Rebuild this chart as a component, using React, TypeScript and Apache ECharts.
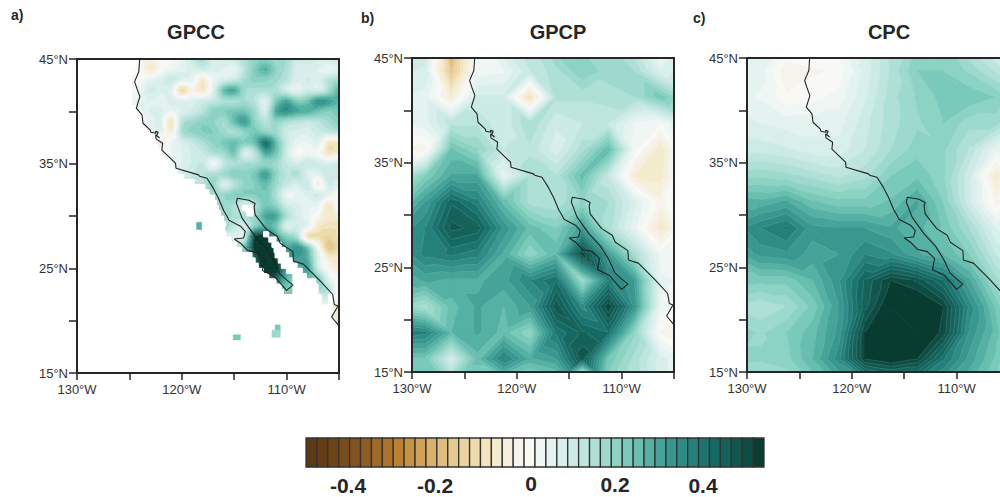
import React, { useEffect, useRef } from "react";
import * as echarts from "echarts";

// Colour bar: 42 boxes of 0.025 each, values in hundredths from -52.5
const bandStart = -52.5;
const bandStep = 2.5;
const bandColors = [
  "#5b3a15", "#643d14", "#6e4417", "#7a4c1b", "#84521e", "#8f5c25", "#a06a29", "#ad732b", "#bc812f", "#c69244", "#d0a157",
  "#d8b069", "#dfbe7d", "#e5c98f", "#ead39f", "#eedbac", "#f2e4bc", "#f4ebcd", "#f5efdc", "#f5f3ec", "#f8f8f5",
  "#eff6f4", "#e4f2f0", "#d9efeb", "#cdebe6", "#bfe5df", "#aee0d6", "#9dd9cd", "#8cd3c4", "#7acabb", "#68bfb0",
  "#55b1a3", "#45a398", "#389890", "#2d8d86", "#248079", "#1b746f", "#136a64", "#146259", "#10574f", "#0b4d45", "#083c30",
];
const colorbarLabels = [
  { text: "-0.4", x: 348, y: 485 },
  { text: "-0.2", x: 435, y: 485 },
  { text: "0", x: 531, y: 483 },
  { text: "0.2", x: 615, y: 484 },
  { text: "0.4", x: 703, y: 485 },
];

// 2.5 degree nodes for GPCP and CPC
const coarseLon = [-131.25, -128.75, -126.25, -123.75, -121.25, -118.75, -116.25, -113.75, -111.25, -108.75, -106.25, -103.75];
const coarseLat = [46.25, 43.75, 41.25, 38.75, 36.25, 33.75, 31.25, 28.75, 26.25, 23.75, 21.25, 18.75, 16.25, 13.75];

const gpcpValues = [
  [12, 10, -28, 0, 8, 12, 20, 17, 15, 10, -4, 10],
  [8, 7, -20, 1, 2, 10, 14, 20, 16, 15, 5, 10],
  [5, 4, -8, 8, 8, -13, 13, 13, 14, 15, 22, 14],
  [2, 4, 12, 12, 8, 15, 8, 10, 10, 2, 0, 8],
  [-2, -4, 23, 18, 10, 12, 6, 14, 25, 1, -10, 5],
  [10, 20, 28, 28, 3, 14, 13, 24, 10, -8, -9, 5],
  [20, 30, 42, 36, 24, 14, 13, 18, 15, 6, -4, 5],
  [30, 35, 46, 44, 32, 24, 20, 30, 14, 3, -10, 2],
  [30, 36, 38, 36, 27, 18, 25, 50, 30, 15, 1, 0],
  [25, 28, 27, 27, 29, 35, 40, 16, 36, 30, 3, 2],
  [18, 14, 24, 28, 25, 30, 47, 34, 50, 32, 2, -2],
  [38, 36, 25, 28, 24, 18, 38, 43, 40, 18, -3, -8],
  [22, 22, 7, 24, 36, 27, 30, 47, 22, 14, 6, 2],
  [20, 18, 18, 18, 18, 15, 18, -20, 18, 14, 6, 2],
];

const cpcValues = [
  [6, 5, 1, 0, 1, 6, 14, 18, 18, 12, 6, 8],
  [5, 4, -5, -3, -2, 6, 13, 20, 20, 17, 12, 8],
  [4, 2, -2, -1, 1, 7, 14, 18, 21, 22, 20, 14],
  [6, 5, 4, 4, 4, 9, 14, 17, 20, 16, 16, 8],
  [9, 9, 8, 6, 6, 10, 15, 19, 18, 12, 3, 0],
  [17, 17, 16, 14, 12, 14, 20, 22, 18, 8, -9, 0],
  [27, 26, 28, 23, 21, 21, 23, 28, 20, 8, -4, 0],
  [31, 35, 38, 31, 30, 30, 28, 26, 22, 15, 5, 2],
  [26, 31, 32, 29, 30, 35, 33, 28, 25, 20, 10, 5],
  [21, 21, 21, 25, 32, 43, 50, 47, 40, 28, 16, 8],
  [15, 13, 15, 21, 30, 44, 54, 55, 50, 34, 22, 10],
  [20, 17, 20, 24, 31, 50, 58, 55, 49, 32, 24, 12],
  [18, 18, 19, 25, 34, 50, 53, 50, 38, 29, 22, 12],
  [14, 13, 15, 20, 25, 30, 34, 34, 30, 25, 20, 12],
];

// 1 degree nodes for GPCC
const gpccLon = [-125, -124, -123, -122, -121, -120, -119, -118, -117, -116, -115, -114, -113, -112, -111, -110, -109, -108, -107, -106, -105];
const gpccLat = [45, 44, 43, 42, 41, 40, 39, 38, 37, 36, 35, 34, 33, 32, 31, 30, 29, 28, 27, 26, 25, 24, 23, 22, 21, 20, 19];
const gpccValues = [
  [-2, -2, -5, -2, 0, 3, 9, 14, 6, 8, 9, 14, 18, 19, 16, 15, 9, 9, 8, 8, 10],
  [-2, -2, -9, -2, 2, 4, 6, 8, 6, 5, 3, 12, 20, 26, 18, 14, 6, 6, 5, 2, 5],
  [-6, 0, 3, 6, 10, 5, 3, -9, 2, 6, 9, 15, 19, 18, 16, 12, 6, 8, 6, 12, 15],
  [-1, 2, 8, 6, 4, -15, -4, -10, 4, 24, 28, 16, 14, 14, 14, 7, 3, 8, 6, 14, 26],
  [2, 3, 5, 3, 6, 5, 5, 8, 10, 14, 14, 15, 12, 5, 20, 28, 20, 22, 32, 30, 25],
  [2, 2, 5, 6, 2, 5, 8, 12, 19, 20, 22, 22, 16, 7, 28, 33, 28, 27, 23, 20, 22],
  [0, 0, 3, 5, -11, 12, 16, 19, 18, 15, 24, 30, 18, 13, 18, 14, 12, 10, 12, 15, 20],
  [0, 0, 2, 4, -7, 14, 18, 20, 20, 16, 14, 18, 22, 18, 16, 8, 7, 6, 9, 10, 12],
  [0, 0, 0, -7, 2, 6, 10, 14, 18, 21, 24, 20, 24, 40, 24, 10, 3, 2, 5, -10, -10],
  [0, 0, 0, -3, 2, 5, 8, 10, 14, 16, 22, 6, 12, 28, 22, 8, -1, 1, -1, -11, -8],
  [0, 0, 0, 0, 3, 5, 8, 10, 0, 10, 14, 15, 15, 18, 16, 10, 7, 10, 8, 6, 8],
  [0, 0, 0, 0, 5, 8, 10, 12, 14, 16, 20, 18, 22, 30, 18, 12, 14, 5, 4, 10, 8],
  [5, 5, 5, 8, 8, 10, 10, 12, 18, 6, 12, 18, 20, 24, 16, 10, 6, 10, -6, 8, 5],
  [10, 10, 10, 10, 10, 10, 10, 12, 16, 17, 20, 20, 20, 22, 14, 2, 3, 6, 8, 3, 0],
  [14, 14, 14, 14, 14, 14, 14, 14, 14, 16, 14, 6, 14, 22, 18, 8, 6, 3, 2, -10, 0],
  [18, 18, 18, 18, 18, 18, 18, 18, 18, 18, 14, 14, 18, 28, 28, 14, 7, 3, -3, -9, -7],
  [18, 18, 18, 18, 18, 18, 18, 18, 18, 18, 10, 8, 20, 26, 22, 5, 8, 3, -9, -12, -12],
  [4, 4, 4, 4, 4, 4, 4, 4, 4, 4, 6, 8, 52, 52, 30, 20, 14, -12, -13, -16, -12],
  [10, 10, 10, 10, 10, 10, 10, 10, 10, 10, 10, 22, 55, 55, 45, 28, 32, 22, 0, -20, -14],
  [15, 15, 15, 15, 15, 15, 15, 15, 15, 15, 15, 15, 45, 55, 52, 35, 30, 26, 6, -8, -10],
  [45, 45, 45, 45, 45, 45, 45, 45, 45, 45, 45, 45, 45, 55, 55, 30, 25, 30, 8, -2, -8],
  [40, 40, 40, 40, 40, 40, 40, 40, 40, 40, 40, 40, 40, 40, 42, 25, 20, 22, 20, 4, -3],
  [22, 22, 22, 22, 22, 22, 22, 22, 22, 22, 22, 22, 22, 22, 22, 22, 20, 10, 15, 12, -2],
  [20, 20, 20, 20, 20, 20, 20, 20, 20, 20, 20, 20, 20, 20, 20, 20, 14, 8, 6, 6, -6],
  [0, 0, 0, 0, 0, 0, 0, 0, 0, 0, 0, 0, 0, 0, 0, 0, 0, 0, 0, 0, -10],
  [-3, -3, -3, -3, -3, -3, -3, -3, -3, -3, -3, -3, -3, -3, -3, -3, -3, -3, -3, -3, -10],
  [-6, -6, -6, -6, -6, -6, -6, -6, -6, -6, -6, -6, -6, -6, -6, -6, -6, -6, -6, -6, -14],
];

// GPCC has no data west of the coast: southern edge of each half-degree row, and the first longitude with data
const gpccRowLat = [44.5, 44, 43.5, 43, 42.5, 42, 41.5, 41, 40.5, 40, 39.5, 39, 38.5, 38, 37.5, 37, 36.5, 36, 35.5, 35, 34.5, 34, 33.5, 33, 32.5, 32, 31.5, 31, 30.5, 30, 29.5, 29, 28.5, 28, 27.5, 27, 26.5, 26, 25.5, 25, 24.5, 24, 23.5, 23, 22.5, 22, 21.5, 21, 20.5, 20, 19.5, 19];
const gpccRowWest = [-124.2, -124.4, -124.6, -124.8, -124.8, -124.8, -124.8, -124.8, -124.8, -124.3, -123.9, -123.8, -123.8, -123.4, -122.9, -122.5, -122.3, -122, -121.8, -121.3, -120.8, -120.4, -119.8, -118.8, -117.8, -117.4, -116.9, -116.7, -116.5, -116.3, -116, -115.8, -115.9, -115.8, -115.3, -114.8, -114.3, -113.3, -113, -112.7, -112.2, -111.7, -111, -110.5, -110.3, -106.7, -106.7, -105.7, -105.7, -105.7, -105.4, -105.1];
// rows' gaps inside the land: southern edge, west, east
const gpccGaps = [
  [30.5, -114.2, -113.2], [30, -113.8, -113.2], [28, -112.2, -111.7], [27.5, -111.7, -111], [27, -111.4, -110.5],
  [26.5, -111.2, -110.1], [26, -111.1, -109.8], [25.5, -110.8, -109.4], [25, -110.5, -109], [24.5, -110, -108.5],
  [24, -109.4, -108.1], [23.5, -109.4, -107.2], [23, -109.4, -107], [22.5, -109.4, -107], [22, -106, -105.7], [21.5, -106, -105.7],
];
// isolated cells: west, south, east, north, value
const gpccIslands = [
  [-118.6, 28.7, -118.1, 29.4, 27],
  [-115.1, 18.15, -114.4, 18.65, 22],
  [-111.1, 19.1, -110.6, 19.6, 20],
  [-111.4, 18.4, -110.6, 19.1, 17],
];

// Shared coastline
const coastLon = [-124.02, -124.1, -124.5, -124.27, -124, -124.34, -123.8, -123.7, -123, -122.95, -122.46, -122.5, -122.25, -122.4, -122.12, -122.5, -122.46, -121.83, -121.9, -120.6, -120.55, -118.4, -118.3, -117.6, -117, -116.5, -116, -115.7, -115.5, -114.4, -113.94, -114.1, -115, -114.4, -113.7, -112.8, -112.1, -112.3, -111.2, -110, -109.4, -110, -110.65, -111.2, -112, -113.1, -114.25, -114.8, -114.7, -113.6, -113, -113.1, -113, -111.9, -110.9, -110.6, -109.4, -109.35, -108.4, -106.8, -105.6, -105.45, -105.1, -105.7, -105];
const coastLat = [45, 43.8, 42.84, 42.14, 41.4, 40.3, 39.66, 38.86, 38.2, 38, 37.9, 38.1, 38, 37.7, 37.45, 37.75, 37.37, 36.95, 36.3, 35.05, 34.57, 33.93, 33.8, 33.6, 32.66, 31.7, 30.5, 30, 29.6, 29.03, 28.5, 27.9, 27.8, 27.4, 26.7, 26.5, 25.85, 24.8, 24.25, 22.9, 23.4, 23.9, 24.5, 25.7, 27, 28.2, 29.8, 31.25, 31.7, 31.5, 31.2, 30.9, 30.1, 28.7, 28.07, 27.4, 26.6, 25.7, 25.4, 23.8, 22.5, 21.55, 21.4, 20.35, 19.5];

const panels = [
  { title: "GPCC", tag: "a)", left: 77, top: 59, titleX: 196, tagX: 11, tagY: 15 },
  { title: "GPCP", tag: "b)", left: 412, top: 58, titleX: 558, tagX: 361, tagY: 18 },
  { title: "CPC", tag: "c)", left: 747, top: 58, titleX: 889, tagX: 693, tagY: 18 },
];

const bandOf = (v: number) => Math.max(0, Math.min(bandColors.length - 1, Math.floor((v - bandStart) / bandStep)));

function clipAbove(poly: number[][], level: number, keepAbove: boolean) {
  const out: number[][] = [];
  const inside = (p: number[]) => (keepAbove ? p[2] >= level : p[2] <= level);
  for (let i = 0; i < poly.length; i++) {
    const a = poly[i];
    const b = poly[(i + 1) % poly.length];
    const ia = inside(a);
    const ib = inside(b);
    if (ia) out.push(a);
    if (ia !== ib) {
      const t = (level - a[2]) / (b[2] - a[2]);
      out.push([a[0] + t * (b[0] - a[0]), a[1] + t * (b[1] - a[1]), level]);
    }
  }
  return out;
}

function triangleChildren(tri: number[][], fills: any[], lines: any[], lineOpacity: number) {
  const vals = tri.map((p) => p[2]);
  const lo = bandOf(Math.min(...vals));
  const hi = bandOf(Math.max(...vals));
  for (let k = lo; k <= hi; k++) {
    let poly = tri;
    if (k > 0) poly = clipAbove(poly, bandStart + k * bandStep, true);
    if (k < bandColors.length - 1 && poly.length) poly = clipAbove(poly, bandStart + (k + 1) * bandStep, false);
    if (poly.length < 3) continue;
    fills.push({
      type: "polygon",
      shape: { points: poly.map((p) => [p[0], p[1]]) },
      style: { fill: bandColors[k], stroke: bandColors[k], lineWidth: 1 },
      silent: true,
    });
  }
  for (let k = lo + 1; k <= hi; k++) {
    const level = bandStart + k * bandStep;
    const pts: number[][] = [];
    for (let i = 0; i < 3; i++) {
      const a = tri[i];
      const b = tri[(i + 1) % 3];
      if (a[2] < level !== b[2] < level) {
        const t = (level - a[2]) / (b[2] - a[2]);
        pts.push([a[0] + t * (b[0] - a[0]), a[1] + t * (b[1] - a[1])]);
      }
    }
    if (pts.length === 2) {
      lines.push({
        type: "line",
        shape: { x1: pts[0][0], y1: pts[0][1], x2: pts[1][0], y2: pts[1][1] },
        style: { stroke: `rgba(255,255,255,${lineOpacity})`, lineWidth: 0.5 },
        silent: true,
      });
    }
  }
}

// One cell of a coarse grid, cut along the corner pair whose values are closest
function contourItem(lineOpacity: number) {
  return (_p: any, api: any) => {
    const c = (lon: number, lat: number, v: number) => {
      const q = api.coord([lon, lat]);
      return [q[0], q[1], v];
    };
    const x0 = api.value(0), y0 = api.value(1), x1 = api.value(2), y1 = api.value(3);
    const a = c(x0, y0, api.value(4));
    const b = c(x1, y0, api.value(5));
    const d = c(x1, y1, api.value(6));
    const e = c(x0, y1, api.value(7));
    const fills: any[] = [];
    const lines: any[] = [];
    if (Math.abs(a[2] - d[2]) <= Math.abs(b[2] - e[2])) {
      triangleChildren([a, b, d], fills, lines, lineOpacity);
      triangleChildren([a, d, e], fills, lines, lineOpacity);
    } else {
      triangleChildren([a, b, e], fills, lines, lineOpacity);
      triangleChildren([b, d, e], fills, lines, lineOpacity);
    }
    return { type: "group", children: fills.concat(lines) };
  };
}

// GPCC cells are contoured with a smooth surface through the read nodes
const cubic = (p0: number, p1: number, p2: number, p3: number, t: number) =>
  0.5 * (2 * p1 + (p2 - p0) * t + (2 * p0 - 5 * p1 + 4 * p2 - p3) * t * t + (3 * p1 - p0 - 3 * p2 + p3) * t * t * t);
const nodeAt = (i: number, j: number) =>
  gpccValues[Math.max(0, Math.min(gpccLat.length - 1, j))][Math.max(0, Math.min(gpccLon.length - 1, i))];
function surface(i: number, j: number, u: number, v: number) {
  const row = (jj: number) => cubic(nodeAt(i - 1, jj), nodeAt(i, jj), nodeAt(i + 1, jj), nodeAt(i + 2, jj), u);
  return cubic(row(j - 1), row(j), row(j + 1), row(j + 2), v);
}
const smoothSteps = 3;
function smoothItem(lineOpacity: number) {
  return (_p: any, api: any) => {
    const i = api.value(2);
    const j = api.value(3);
    const lon0 = gpccLon[i];
    const lat0 = gpccLat[j];
    const node = (s: number, t: number) => {
      const u = s / smoothSteps;
      const v = t / smoothSteps;
      const q = api.coord([lon0 + u, lat0 - v]);
      return [q[0], q[1], surface(i, j, u, v)];
    };
    const fills: any[] = [];
    const lines: any[] = [];
    for (let t = 0; t < smoothSteps; t++) {
      for (let s = 0; s < smoothSteps; s++) {
        const a = node(s, t), b = node(s + 1, t), d = node(s + 1, t + 1), e = node(s, t + 1);
        triangleChildren([a, b, d], fills, lines, lineOpacity);
        triangleChildren([a, d, e], fills, lines, lineOpacity);
      }
    }
    return { type: "group", children: fills.concat(lines) };
  };
}

function cells(lons: number[], lats: number[], grid: number[][]) {
  const out: number[][] = [];
  for (let j = 0; j + 1 < lats.length; j++) {
    for (let i = 0; i + 1 < lons.length; i++) {
      out.push([lons[i], lats[j], lons[i + 1], lats[j + 1], grid[j][i], grid[j][i + 1], grid[j + 1][i + 1], grid[j + 1][i]]);
    }
  }
  return out;
}

function gpccCells() {
  const out: number[][] = [];
  for (let j = 0; j + 1 < gpccLat.length; j++) {
    const near = gpccRowWest.filter((_w, r) => gpccRowLat[r] < gpccLat[j] && gpccRowLat[r] >= gpccLat[j + 1]);
    const west = Math.min(...near);
    for (let i = 0; i + 1 < gpccLon.length; i++) {
      if (gpccLon[i + 1] > west) out.push([gpccLon[i], gpccLat[j], i, j]);
    }
  }
  return out;
}

function boxItem(fillOf: (api: any) => string, strokeWidth: number) {
  return (_p: any, api: any) => {
    const p = api.coord([api.value(0), api.value(1)]);
    const q = api.coord([api.value(2), api.value(3)]);
    return {
      type: "rect",
      shape: { x: p[0], y: q[1], width: q[0] - p[0], height: p[1] - q[1] },
      style: { fill: fillOf(api), stroke: fillOf(api), lineWidth: strokeWidth },
      silent: true,
    };
  };
}

const axisColor = "#262626";
const textColor = "#333333";

function App() {
  const ref = useRef<HTMLDivElement>(null);
  useEffect(() => {
    document.body.style.margin = "0";
    const chart = echarts.init(ref.current!, null, { renderer: "svg" });

    const grids: any[] = [];
    const xAxes: any[] = [];
    const yAxes: any[] = [];
    const series: any[] = [];
    const graphics: any[] = [];

    panels.forEach((p, idx) => {
      grids.push({ left: p.left, top: p.top, width: 262, height: 314, outerBoundsMode: "none" });
      const xBase = { type: "value", min: -130, max: -105, interval: 5, gridIndex: idx, z: 10, splitLine: { show: false } };
      const yBase = { type: "value", min: 15, max: 45, interval: 5, gridIndex: idx, z: 10, splitLine: { show: false } };
      const line = { show: true, onZero: false, lineStyle: { color: axisColor, width: 2 } };
      xAxes.push({
        ...xBase,
        position: "bottom",
        axisLine: line,
        axisTick: { show: true, length: 7, lineStyle: { color: axisColor, width: 1.5 } },
        axisLabel: {
          show: true,
          margin: 10,
          fontSize: 13,
          color: textColor,
          fontFamily: "Liberation Sans",
          formatter: (v: number) => (v % 10 === 0 ? `${-v}°W` : ""),
        },
      });
      xAxes.push({ ...xBase, position: "top", axisLine: line, axisTick: { show: false }, axisLabel: { show: false } });
      yAxes.push({
        ...yBase,
        position: "left",
        axisLine: line,
        axisTick: { show: true, length: 8, lineStyle: { color: axisColor, width: 1.5 } },
        axisLabel: {
          show: true,
          margin: 9,
          fontSize: 13,
          color: textColor,
          fontFamily: "Liberation Sans",
          formatter: (v: number) => ((v - 15) % 10 === 0 ? `${v}°N` : ""),
        },
      });
      yAxes.push({ ...yBase, position: "right", axisLine: line, axisTick: { show: false }, axisLabel: { show: false } });

      const xi = idx * 2;
      const yi = idx * 2;
      if (idx === 0) {
        series.push({
          type: "custom", xAxisIndex: xi, yAxisIndex: yi, clip: true, z: 2, silent: true,
          data: gpccCells(), encode: { x: 0, y: 1 }, renderItem: smoothItem(0.2),
        });
        const mask = [
          ...gpccRowLat.map((lat, i) => [-125.5, lat, gpccRowWest[i], lat + 0.5]),
          ...gpccGaps.map((g) => [g[1], g[0], g[2], g[0] + 0.5]),
          [-125.5, 15, -105, 19],
        ];
        series.push({
          type: "custom", xAxisIndex: xi, yAxisIndex: yi, clip: true, z: 3, silent: true,
          data: mask, encode: { x: 0, y: 1 }, renderItem: boxItem(() => "#ffffff", 1),
        });
        series.push({
          type: "custom", xAxisIndex: xi, yAxisIndex: yi, clip: true, z: 4, silent: true,
          data: gpccIslands, encode: { x: 0, y: 1 },
          renderItem: boxItem((api) => bandColors[bandOf(api.value(4))], 0.4),
        });
      } else {
        series.push({
          type: "custom", xAxisIndex: xi, yAxisIndex: yi, clip: true, z: 2, silent: true,
          data: cells(coarseLon, coarseLat, idx === 1 ? gpcpValues : cpcValues),
          encode: { x: 0, y: 1 }, renderItem: contourItem(0.3),
        });
      }
      series.push({
        type: "line",
        xAxisIndex: xi,
        yAxisIndex: yi,
        z: 5,
        silent: true,
        showSymbol: false,
        symbol: "none",
        lineStyle: { color: "#222222", width: 1.1 },
        data: coastLon.map((lon, i) => [lon, coastLat[i]]),
      });

      graphics.push({
        type: "text", x: p.titleX, y: 32,
        style: { text: p.title, font: "bold 20px 'Liberation Sans'", fill: "#262626", textAlign: "center", textVerticalAlign: "middle" },
      });
      graphics.push({
        type: "text", x: p.tagX, y: p.tagY,
        style: { text: p.tag, font: "bold 14px 'Liberation Sans'", fill: "#262626", textAlign: "left", textVerticalAlign: "middle" },
      });
    });

    // Colour bar
    grids.push({ left: 306, top: 438, width: 458, height: 29, outerBoundsMode: "none" });
    const barIdx = panels.length;
    xAxes.push({ type: "value", gridIndex: barIdx, min: bandStart, max: bandStart + bandStep * bandColors.length, show: false });
    yAxes.push({ type: "value", gridIndex: barIdx, min: 0, max: 1, show: false });
    series.push({
      type: "custom",
      xAxisIndex: xAxes.length - 1,
      yAxisIndex: yAxes.length - 1,
      silent: true,
      data: bandColors.map((_c, i) => [bandStart + i * bandStep, 0, bandStart + (i + 1) * bandStep, 1, i]),
      encode: { x: 0, y: 1 },
      renderItem: (_p: any, api: any) => {
        const a = api.coord([api.value(0), api.value(1)]);
        const b = api.coord([api.value(2), api.value(3)]);
        return {
          type: "rect",
          shape: { x: a[0], y: b[1], width: b[0] - a[0], height: a[1] - b[1] },
          style: { fill: bandColors[api.value(4)], stroke: "#333333", lineWidth: 1.3 },
          silent: true,
        };
      },
    });
    colorbarLabels.forEach((l) => {
      graphics.push({
        type: "text", x: l.x, y: l.y,
        style: { text: l.text, font: "bold 21px 'Liberation Sans'", fill: "#262626", textAlign: "center", textVerticalAlign: "middle" },
      });
    });

    chart.setOption({
      animation: false,
      backgroundColor: "#ffffff",
      grid: grids,
      xAxis: xAxes,
      yAxis: yAxes,
      series,
      graphic: graphics,
    });
    return () => chart.dispose();
  }, []);
  return <div ref={ref} style={{ width: 1000, height: 497 }} />;
}

export default App;
